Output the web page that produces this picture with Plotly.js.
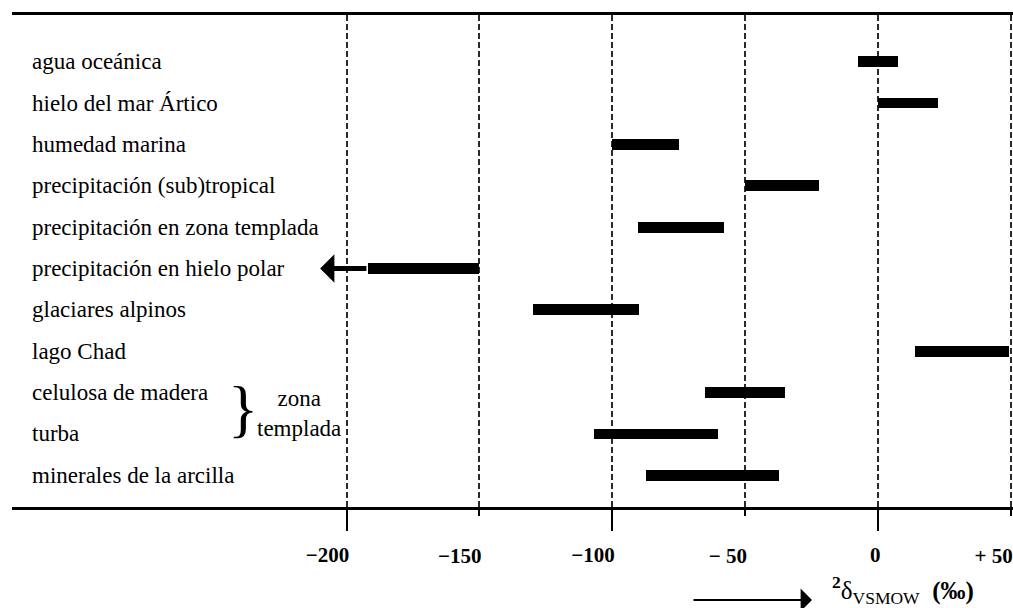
<!DOCTYPE html>
<html>
<head>
<meta charset="utf-8">
<script src="https://cdn.plot.ly/plotly-3.0.1.min.js"></script>
<style>html,body{margin:0;padding:0;background:#fff;}#chart{width:1013px;height:608px;}</style>
</head>
<body>
<div id="chart"></div>
<script>
// ---- data ----
const categories = [
  "agua oceánica",
  "hielo del mar Ártico",
  "humedad marina",
  "precipitación (sub)tropical",
  "precipitación en zona templada",
  "precipitación en hielo polar",
  "glaciares alpinos",
  "lago Chad",
  "celulosa de madera",
  "turba",
  "minerales de la arcilla"
];
const rangeStart = [-7.5, 0, -100, -50, -90.5, -192, -130, 14, -65, -107, -87.3];
const rangeEnd   = [ 7.5, 22.5, -75, -22.3, -58, -150, -90, 49.5, -35, -60.2, -37.3];

// open-ended range: arrow continues past the bar toward more negative values
const arrowCategory = "precipitación en hielo polar";
const arrowTip = -210;

// bracket grouping
const groupMembers = ["celulosa de madera", "turba"];
const groupLabel = "zona<br>templada";

// ticks
const longTickVals  = [-200, -100, 0];
const longTickText  = ["\u2212200", "\u2212100", "0"];
const shortTickVals = [-150, -50, 50];
const shortTickText = ["\u2212150", "\u2212 50", "+ 50"];

const axisTitle = "<b><sup>2</sup></b>δ<sub>VSMOW</sub>  <b>(‰)</b>";

// ---- build ----
const xRange = [-326, 50.87];
const serif = "Liberation Serif";

const bars = {
  type: "bar",
  orientation: "h",
  y: categories,
  base: rangeStart,
  x: rangeEnd.map((e, i) => e - rangeStart[i]),
  width: 0.26,
  marker: {color: "#000", line: {width: 0}},
  hoverinfo: "skip",
  showlegend: false
};
const dummy = {type: "scatter", x: [], y: [], xaxis: "x2", yaxis: "y", showlegend: false, hoverinfo: "skip"};

const annotations = [];
categories.forEach((c, i) => {
  annotations.push({
    xref: "paper", yref: "y", x: 0, y: i, xshift: 18,
    xanchor: "left", yanchor: "middle", showarrow: false,
    text: c, font: {family: serif, size: 23, color: "#000"}
  });
});

const ai = categories.indexOf(arrowCategory);
annotations.push({
  xref: "x", yref: "y", axref: "x", ayref: "y",
  x: arrowTip, y: ai, ax: rangeStart[ai], ay: ai,
  showarrow: true, arrowhead: 1, arrowwidth: 5, arrowsize: 0.95,
  arrowcolor: "#000", text: ""
});

const g0 = categories.indexOf(groupMembers[0]);
const g1 = categories.indexOf(groupMembers[1]);
const gMid = (g0 + g1) / 2;
annotations.push({
  xref: "x", yref: "y", x: -239, y: gMid, yshift: 4,
  xanchor: "center", yanchor: "middle", showarrow: false,
  text: "}", font: {family: serif, size: 63, color: "#000"}
});
annotations.push({
  xref: "x", yref: "y", x: -218, y: gMid,
  xanchor: "center", yanchor: "middle", showarrow: false, align: "center",
  text: groupLabel, font: {family: serif, size: 23, color: "#000"}
});

// direction arrow under the axis and the axis title
annotations.push({
  xref: "paper", yref: "paper", x: (812 - 12) / 1001, y: (507 - 600) / 492,
  ax: -120, ay: 0, showarrow: true, arrowhead: 1, arrowwidth: 2, arrowsize: 1.9,
  arrowcolor: "#000", text: ""
});
annotations.push({
  xref: "paper", yref: "paper", x: (830 - 12) / 1001, y: (507 - 590) / 492,
  xanchor: "left", yanchor: "middle", showarrow: false,
  text: axisTitle, font: {family: serif, size: 25, color: "#000"}
});

const commonX = {
  range: xRange,
  tickmode: "array",
  ticks: "outside",
  tickwidth: 2,
  tickcolor: "#000",
  ticklabelposition: "outside left",
  ticklabeloverflow: "allow",
  tickfont: {family: serif, size: 21, color: "#000", weight: "bold"},
  showgrid: true,
  griddash: "6px,3px",
  gridwidth: 2,
  gridcolor: "#2a2a2a",
  zeroline: false,
  fixedrange: true
};

const layout = {
  width: 1013, height: 608,
  margin: {l: 12, r: 0, t: 15, b: 101, pad: 0},
  paper_bgcolor: "#fff", plot_bgcolor: "#fff",
  bargap: 0,
  xaxis: Object.assign({}, commonX, {
    tickvals: longTickVals, ticktext: longTickText, ticklen: 21,
    ticklabelstandoff: 27, ticklabelshift: 5,
    showline: true, linewidth: 3, linecolor: "#000", mirror: true
  }),
  xaxis2: Object.assign({}, commonX, {
    overlaying: "x", matches: "x", anchor: "y", side: "bottom",
    tickvals: shortTickVals, ticktext: shortTickText, ticklen: 8,
    ticklabelstandoff: 30, ticklabelshift: 3,
    showline: false
  }),
  yaxis: {
    type: "category",
    categoryorder: "array", categoryarray: categories,
    range: [10.766, -1.129],
    showticklabels: false, ticks: "", showgrid: false, zeroline: false,
    showline: false, fixedrange: true
  },
  annotations: annotations,
  showlegend: false
};

Plotly.newPlot("chart", [bars, dummy], layout, {displayModeBar: false, staticPlot: true});
</script>
</body>
</html>
